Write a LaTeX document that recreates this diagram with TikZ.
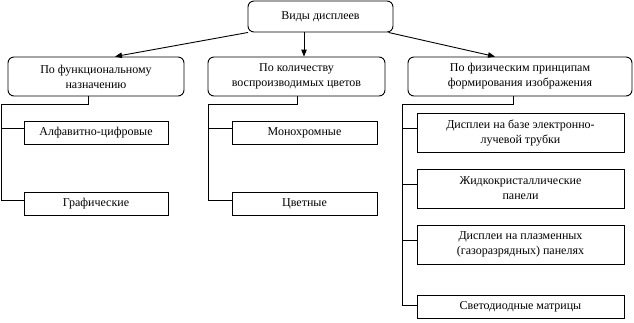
\documentclass[tikz,border=0pt]{standalone}
\usepackage{fontspec}
\setmainfont{Liberation Serif}
\usetikzlibrary{arrows.meta,calc}
\begin{document}
\begin{tikzpicture}[x=1pt,y=-1pt,
  every node/.style={font=\fontsize{12}{15}\selectfont, align=center, inner sep=0pt},
  rbox/.style={draw, line width=0.9pt, rounded corners=6pt},
  sbox/.style={draw, line width=0.9pt},
  conn/.style={line width=0.9pt},
  arr/.style={line width=0.9pt, -{Triangle[length=7pt,width=5.5pt]}}]
\useasboundingbox (0,0) rectangle (634,322);
% top
\node[rbox, minimum width=145pt, minimum height=31pt] (top) at (320.5,16.5) {Виды дисплеев};
% level 2
\node[rbox, minimum width=176pt, minimum height=39pt] (fa) at (96,76.5) {По функциональному\\назначению};
\node[rbox, minimum width=177pt, minimum height=39pt] (fb) at (296.5,76.5) {По количеству\\воспроизводимых цветов};
\node[rbox, minimum width=224pt, minimum height=39pt] (fc) at (520,76.5) {По физическим принципам\\формирования изображения};
% children
\node[sbox, minimum width=144pt, minimum height=23pt] (a1) at (96,132.5) {Алфавитно-цифровые};
\node[sbox, minimum width=144pt, minimum height=23pt] (a2) at (96,203.5) {Графические};
\node[sbox, minimum width=145pt, minimum height=23pt] (b1) at (304.5,132.5) {Монохромные};
\node[sbox, minimum width=145pt, minimum height=23pt] (b2) at (304.5,203.5) {Цветные};
\node[sbox, minimum width=207pt, minimum height=39pt] (c1) at (520.5,132.5) {Дисплеи на базе электронно-\\лучевой трубки};
\node[sbox, minimum width=207pt, minimum height=39pt] (c2) at (520.5,188.5) {Жидкокристаллические\\панели};
\node[sbox, minimum width=207pt, minimum height=39pt] (c3) at (520.5,244.5) {Дисплеи на плазменных\\(газоразрядных) панелях};
\node[sbox, minimum width=207pt, minimum height=23pt] (c4) at (520.5,306.5) {Светодиодные матрицы};
% arrows
\coordinate (tl) at ($(top.south west)+(0.5,0)$);
\coordinate (tr) at ($(top.south east)+(-5,0)$);
\draw[arr] (tl) -- (fa.north -| 115,0);
\draw[arr] (top.south -| 304,0) -- (fb.north -| 304,0);
\draw[arr] (tr) -- (fc.north -| 495,0);
% tree A
\coordinate (sa) at (1.5,104);
\draw[conn] (fa.south -| 88,0) |- (sa) |- (a2.west |- 0,200);
\draw[conn] (sa |- 0,128) -- (a1.west |- 0,128);
% tree B
\coordinate (sb) at (208.5,104);
\draw[conn] (fb.south -| 297,0) |- (sb) |- (b2.west |- 0,200);
\draw[conn] (sb |- 0,128) -- (b1.west |- 0,128);
% tree C
\coordinate (sc) at (402,104);
\draw[conn] (fc.south -| 513,0) |- (sc) |- (c4.west |- 0,305);
\draw[conn] (sc |- 0,128) -- (c1.west |- 0,128);
\draw[conn] (sc |- 0,184) -- (c2.west |- 0,184);
\draw[conn] (sc |- 0,240) -- (c3.west |- 0,240);
\end{tikzpicture}
\end{document}
